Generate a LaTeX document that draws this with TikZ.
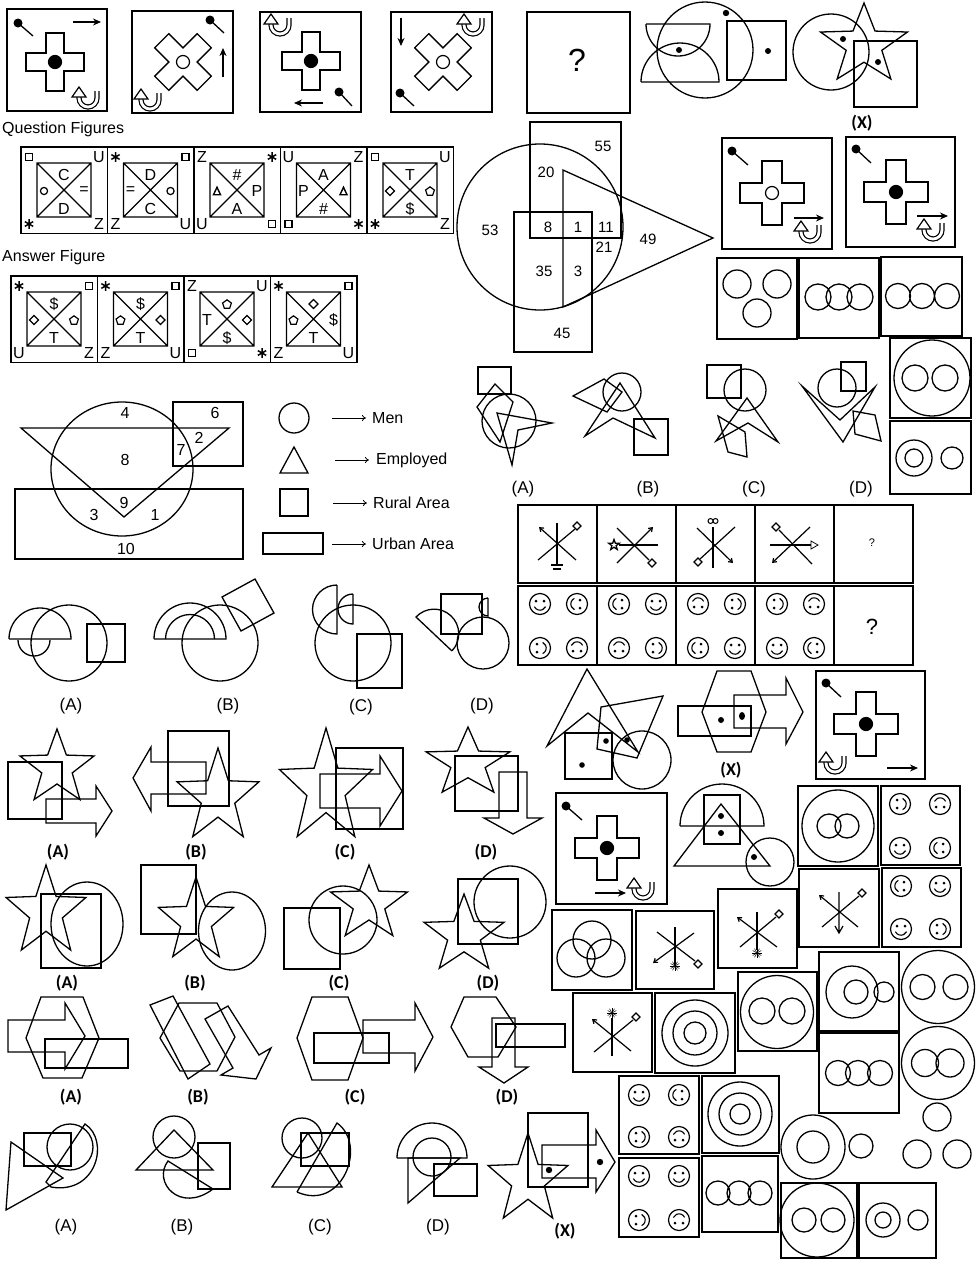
\documentclass[tikz,border=0pt]{standalone}
\usepackage{fontspec}
\setmainfont{Liberation Sans}
\newfontfamily\tagfont{Carlito}
\usetikzlibrary{arrows.meta}

% small symbols used inside the cells
\newcommand{\symsq}{\tikz\draw[line width=1.2pt] (0,0) rectangle (7pt,7pt);}
\newcommand{\symdm}{\tikz\draw[line width=1.2pt] (0,4.5pt) -- (4.5pt,0) -- (0,-4.5pt) -- (-4.5pt,0) -- cycle;}
\newcommand{\sympt}{\tikz\draw[line width=1.2pt] (90:4.6pt) -- (162:4.6pt) -- (234:4.6pt) -- (306:4.6pt) -- (18:4.6pt) -- cycle;}
\newcommand{\symci}{\tikz\draw[line width=1.2pt] (0,0) circle (3.6pt);}
\newcommand{\symtr}{\tikz\draw[line width=1.4pt] (0,0) -- (7pt,0) -- (3.5pt,7.5pt) -- cycle;}
\newcommand{\symast}{\tikz\draw[line width=1.5pt] (90:4.8pt) -- (270:4.8pt) (30:4.8pt) -- (210:4.8pt) (150:4.8pt) -- (330:4.8pt);}

% cell with diagonals: name, corner, corner symbols, inner symbols
\newcommand{\cellbox}[4]{%
  \begin{scope}[shift={(#2)}]
    \draw[cellframe] (0,0) rectangle (86.5,86.5);
    \draw[fig] (16,16) rectangle (70,70) (16,16) -- (70,70) (70,16) -- (16,70);
    \foreach \ctl/\ctr/\cbl/\cbr in {#3} {
      \node (#1-tl) at (8,10) {\ctl};
      \node (#1-tr) at (78,10) {\ctr};
      \node (#1-bl) at (8,77) {\cbl};
      \node (#1-br) at (78,77) {\cbr};}
    \foreach \ct/\cl/\cr/\cb in {#4} {
      \node (#1-t) at (43,28) {\ct};
      \node (#1-l) at (23,44) {\cl};
      \node (#1-r) at (63,44) {\cr};
      \node (#1-b) at (43,62) {\cb};}
  \end{scope}}

% plus shaped block: x, y, rotation, half size, half arm, centre fill
\newcommand{\plusmark}[6]{%
  \begin{scope}[shift={(#1,#2)}, rotate=#3]
    \draw[fig] (-#5,-#4) -- (#5,-#4) -- (#5,-#5) -- (#4,-#5) -- (#4,#5) -- (#5,#5)
      -- (#5,#4) -- (-#5,#4) -- (-#5,#5) -- (-#4,#5) -- (-#4,-#5) -- (-#5,-#5) -- cycle;
    \draw[line width=1.2pt, fill=#6] (0,0) circle (6.5);
  \end{scope}}

\newcommand{\pinmark}[4]{\fill (#1,#2) circle (4.5); \draw[fig] (#1,#2) -- (#3,#4);}

\newcommand{\turnmark}[2]{%
  \begin{scope}[shift={(#1,#2)}]
    \draw[double=white, double distance=2.8pt, line width=1.2pt]
      (9,-7) -- (9,0) arc[start angle=0, end angle=180, radius=9] -- (-9,-2);
    \draw[line width=1.2pt, fill=white] (-16,-1) -- (-9,-11) -- (-2,-1) -- cycle;
  \end{scope}}

\newcommand{\facemark}[3]{%
  \begin{scope}[shift={(#1,#2)}, rotate=#3]
    \draw[line width=1.2pt] (0,0) circle (10.5);
    \fill (-4,-3) circle (1.5) (4,-3) circle (1.5);
    \draw[line width=1.1pt] (-5.62,2.62) arc[start angle=155, end angle=25, radius=6.2];
  \end{scope}}

\newcommand{\starmark}[4]{%
  \begin{scope}[shift={(#1,#2)}, xscale=#3, yscale=#4]
    \draw[fig] (270:1) -- (306:0.41) -- (342:1) -- (18:0.41) -- (54:1) -- (90:0.41)
      -- (126:1) -- (162:0.41) -- (198:1) -- (234:0.41) -- cycle;
  \end{scope}}

\newcommand{\diamondtip}[2]{\draw[spoke, fill=white] (#1,#2) +(0,-4) -- +(4,0) -- +(0,4) -- +(-4,0) -- cycle;}
\newcommand{\sparkmark}[2]{\foreach \sang in {0,30,...,330} {\draw[line width=0.5pt] (#1,#2) -- +(\sang:5);}}

\begin{document}
\begin{tikzpicture}[x=1pt, y=-1pt,
    >={Stealth[length=8pt, width=7pt]},
    every node/.style={inner sep=0pt, font=\fontsize{16}{19}\selectfont},
    fig/.style={line width=1.3pt, line join=miter},
    framebox/.style={line width=1.8pt},
    cellframe/.style={line width=1.5pt},
    ptr/.style={->, line width=1.4pt},
    thinptr/.style={-{To[length=4pt, width=6pt]}, line width=0.8pt},
    spoke/.style={line width=1.2pt},
    barb/.style={spoke, -{Straight Barb[length=3.5pt, width=5pt]}},
    optlabel/.style={font=\fontsize{17}{20}\selectfont},
    tag/.style={font=\tagfont\bfseries\fontsize{18}{21}\selectfont},
    venn/.style={font=\fontsize{15}{17}\selectfont},
]
\fill[white] (0,0) rectangle (977,1261);
\useasboundingbox (0,0) rectangle (977,1261);

% top row of problem figures
\draw[framebox] (7,9) rectangle (107,111);
\pinmark{18}{23}{33}{36}
\draw[ptr] (73,22) -- (101,22);
\plusmark{55}{62}{0}{29}{9}{black}
\turnmark{88}{98}

\draw[framebox] (132,11) rectangle (233,113);
\pinmark{210}{20}{224}{33}
\plusmark{183}{62}{45}{30}{10}{white}
\draw[ptr] (223,77) -- (223,48);
\turnmark{150}{100}

\draw[framebox] (260,12) rectangle (361,112);
\turnmark{280}{25}
\plusmark{311}{61}{0}{29}{9}{black}
\pinmark{339}{92}{352}{106}
\draw[ptr] (323,103) -- (294,103);

\draw[framebox] (391,12) rectangle (492,112);
\draw[ptr] (401,18) -- (401,46);
\turnmark{473}{25}
\plusmark{443}{62}{45}{30}{10}{white}
\pinmark{400}{93}{414}{106}

\draw[framebox] (527,12) rectangle (630,113);
\node[font=\fontsize{32}{36}\selectfont] (qmark) at (577,60) {?};

% semicircles and circle
\draw[fig] (705,50) circle (48);
\draw[fig] (646,24) -- (710,24) arc[start angle=0, end angle=180, radius=32];
\draw[fig] (641,82) -- (719,82) arc[start angle=0, end angle=-180, radius=39];
\fill (679,50) circle (3) (726,13) circle (3.2) (768,51) circle (3);
\draw[fig] (727,21) rectangle (786,80);

% star, circle, square (X)
\draw[fig] (831,52) circle (38);
\starmark{864}{45}{45.7}{42}
\draw[fig] (854,41) rectangle (917,107);
\fill (843,39) circle (3) (878,62) circle (3);
\node[tag] (tagx1) at (862,123) {(X)};

% question and answer cells
\node[anchor=west] (qtitle) at (2,129) {Question Figures};
\cellbox{q1}{21,147}{\symsq/U/\symast/Z}{C/\symci/=/D}
\cellbox{q2}{107.5,147}{\symast/\symsq/Z/U}{D/=/\symci/C}
\cellbox{q3}{194,147}{Z/\symast/U/\symsq}{\#/\symtr/P/A}
\cellbox{q4}{280.5,147}{U/Z/\symsq/\symast}{A/P/\symtr/\#}
\cellbox{q5}{367,147}{\symsq/U/\symast/Z}{T/\symdm/\sympt/\$}
\node[anchor=west] (atitle) at (2,257) {Answer Figure};
\cellbox{a1}{11,276}{\symast/\symsq/U/Z}{\$/\symdm/\sympt/T}
\cellbox{a2}{97.5,276}{\symast/\symsq/Z/U}{\$/\sympt/\symdm/T}
\cellbox{a3}{184,276}{Z/U/\symsq/\symast}{\sympt/T/\symdm/\$}
\cellbox{a4}{270.5,276}{\symast/\symsq/Z/U}{\symdm/\sympt/\$/T}

% numbered venn figure
\draw[fig] (540,227) circle (83);
\draw[fig] (530,122) rectangle (621,238);
\draw[fig] (514,212) rectangle (592,352);
\draw[fig] (563,170) -- (713,238) -- (563,307) -- cycle;
\node[venn] (v55) at (603,146) {55};
\node[venn] (v20) at (546,172) {20};
\node[venn] (v53) at (490,230) {53};
\node[venn] (v8) at (548,227) {8};
\node[venn] (v1) at (578,227) {1};
\node[venn] (v11) at (606,227) {11};
\node[venn] (v49) at (648,239) {49};
\node[venn] (v21) at (604,247) {21};
\node[venn] (v35) at (544,271) {35};
\node[venn] (v3) at (578,271) {3};
\node[venn] (v45) at (562,333) {45};

% right column: plus cells
\draw[framebox] (722,138) rectangle (832,249);
\pinmark{732}{151}{748}{165}
\plusmark{772}{193}{0}{32}{10}{white}
\draw[ptr] (794,218) -- (824,218);
\turnmark{810}{232}
\draw[framebox] (846,137) rectangle (955,247);
\pinmark{856}{149}{871}{163}
\plusmark{896}{192}{0}{32}{10}{black}
\draw[ptr] (917,216) -- (948,216);
\turnmark{933}{230}

% right column: circle cells
\draw[framebox] (717,258) rectangle (797,339);
\draw[fig] (737,284) circle (14) (777,284) circle (14) (757,313) circle (14);
\draw[framebox] (799,258) rectangle (879,338);
\draw[fig] (818,297) circle (13) (839,297) circle (13) (860,297) circle (13);
\draw[framebox] (881,257) rectangle (962,336);
\draw[fig] (898,296) circle (12.5) (922,296) circle (12.5) (947,296) circle (12.5);
\draw[framebox] (890,338) rectangle (971,418);
\draw[fig] (932,378) circle (38) (915,378) circle (13) (945,378) circle (13);
\draw[framebox] (890,421) rectangle (971,494);
\draw[fig] (914,458) circle (18) (914,458) circle (9) (952,458) circle (11);

% polygon options
\draw[fig] (478,367) rectangle (511,394);
\draw[fig] (509,421) circle (27);
\draw[fig] (495,384) -- (513,402) -- (500,442) -- (477,407) -- cycle;
\draw[fig] (497,413) -- (552,423) -- (518,430) -- (512,465) -- cycle;
\draw[fig] (573,396) -- (604,379) -- (622,392) -- (607,412) -- cycle;
\draw[fig] (622,392) circle (19);
\draw[fig] (585,436) -- (620,383) -- (655,438) -- (613,418) -- cycle;
\draw[fig] (634,419) rectangle (668,455);
\draw[fig] (707,365) rectangle (741,398);
\draw[fig] (745,390) circle (21);
\draw[fig] (716,441) -- (747,398) -- (778,442) -- (748,423) -- cycle;
\draw[fig] (718,416) -- (745,432) -- (747,457) -- (728,452) -- cycle;
\draw[fig] (841,362) rectangle (866,391);
\draw[fig] (837,388) circle (19);
\draw[fig] (802,386) -- (843,442) -- (875,387) -- (840,420) -- cycle;
\draw[fig] (853,411) -- (875,415) -- (881,441) -- (855,434) -- cycle;
\node[optlabel] (pA) at (523,489) {(A)};
\node[optlabel] (pB) at (648,489) {(B)};
\node[optlabel] (pC) at (754,489) {(C)};
\node[optlabel] (pD) at (861,489) {(D)};

% arrow-symbol cells and face cells
\foreach \xa in {518,597,676,755,834} {
  \draw[framebox] (\xa,505) rectangle +(79,78);
  \draw[framebox] (\xa,586) rectangle +(79,79);
}
\draw[spoke] (557,523) -- (557,564) (551,565) -- (563,565) (553,569) -- (561,569);
\draw[barb] (576,560) -- (539,527);
\draw[spoke] (538,560) -- (575,529);
\diamondtip{577}{526}
\draw[spoke] (619,545) -- (658,545);
\draw[spoke] (617,528) -- (649,560);
\diamondtip{652}{563}
\draw[barb] (617,563) -- (653,527);
\begin{scope}[line width=0.6pt]\starmark{614}{545}{5.5}{5.5}\end{scope}
\draw[spoke] (713,527) -- (713,568);
\draw[line width=1pt] (710.5,521) circle (2.5) (715.5,521) circle (2.5);
\draw[barb] (697,528) -- (733,563);
\draw[spoke] (735,527) -- (700,559);
\diamondtip{698}{562}
\draw[spoke] (770,545) -- (811,545);
\draw[line width=0.8pt] (811,541) -- (818,545) -- (811,549) -- cycle;
\diamondtip{776}{527}
\draw[spoke] (779,530) -- (812,564);
\draw[barb] (810,527) -- (772,563);
\node[font=\fontsize{11}{13}\selectfont] (qmark2) at (872,543) {?};

\facemark{540}{604}{0} \facemark{577}{604}{-90} \facemark{540}{648}{90} \facemark{577}{648}{180}
\facemark{619}{604}{-90} \facemark{656}{604}{0} \facemark{619}{648}{180} \facemark{656}{648}{90}
\facemark{698}{604}{180} \facemark{735}{604}{90} \facemark{698}{648}{-90} \facemark{735}{648}{0}
\facemark{777}{604}{90} \facemark{814}{604}{180} \facemark{777}{648}{0} \facemark{814}{648}{-90}
\node[font=\fontsize{22}{24}\selectfont] (qmark3) at (872,627) {?};

% venn with legend
\draw[fig] (122,469) ellipse [x radius=71, y radius=67];
\draw[fig] (21,428) -- (229,428) -- (124,517) -- cycle;
\draw[fig] (173,402) rectangle (243,466);
\draw[fig] (15,489) rectangle (243,559);
\node (w4) at (125,413) {4};
\node (w6) at (215,413) {6};
\node (w2) at (199,438) {2};
\node (w7) at (181,450) {7};
\node (w8) at (125,460) {8};
\node (w9) at (124,503) {9};
\node (w3) at (94,515) {3};
\node (w1) at (155,515) {1};
\node (w10) at (126,549) {10};
\draw[fig] (294,418) circle (15);
\draw[fig] (280,473) -- (294,447) -- (308,473) -- cycle;
\draw[fig] (280,489) rectangle (308,516);
\draw[fig] (263,533) rectangle (323,554);
\node[anchor=west] (kmen) at (372,418) {Men};
\node[anchor=west] (kemp) at (376,460) {Employed};
\node[anchor=west] (krur) at (373,503) {Rural Area};
\node[anchor=west] (kurb) at (372,544) {Urban Area};
\draw[thinptr] ([xshift=-40pt]kmen.west) -- ([xshift=-6pt]kmen.west);
\draw[thinptr] ([xshift=-41pt]kemp.west) -- ([xshift=-7pt]kemp.west);
\draw[thinptr] ([xshift=-40pt]krur.west) -- ([xshift=-6pt]krur.west);
\draw[thinptr] ([xshift=-40pt]kurb.west) -- ([xshift=-6pt]kurb.west);

% options row 1: semicircles
\draw[fig] (9,639) -- (71,639) arc[start angle=0, end angle=-180, radius=31];
\draw[fig] (18,640) arc[start angle=180, end angle=0, radius=16];
\draw[fig] (69,643) circle (38);
\draw[fig] (87,624) rectangle (125,662);
\draw[fig] (154,639) -- (226,639) arc[start angle=0, end angle=-180, radius=36];
\draw[fig] (214.5,639) arc[start angle=0, end angle=-180, radius=24.5];
\draw[fig] (220,643) circle (38);
\draw[fig] (222,597) -- (255,579) -- (274,613) -- (241,631) -- cycle;
\draw[fig] (353,643) circle (38);
\draw[fig] (337,585) -- (337,634) arc[start angle=90, end angle=270, radius=24.5];
\draw[fig] (353,594) -- (353,624) arc[start angle=90, end angle=270, radius=15];
\draw[fig] (357,634) rectangle (402,688);
\draw[fig] (441,594) rectangle (482,634);
\draw[fig] (488,598) -- (488,616) arc[start angle=90, end angle=270, radius=9];
\draw[fig] (483,643) circle (26);
\draw[fig] (452,651) -- (416,617) arc[start angle=223, end angle=403, radius=24.7];
\node[optlabel] (r1A) at (71,706) {(A)};
\node[optlabel] (r1B) at (228,706) {(B)};
\node[optlabel] (r1C) at (361,707) {(C)};
\node[optlabel] (r1D) at (482,706) {(D)};

% options row 2: star, square, block arrow
\starmark{57}{768}{39}{39}
\draw[fig] (8,762) rectangle (62,819);
\draw[fig] (46,799) -- (96,799) -- (96,786) -- (112,811) -- (96,836) -- (96,823) -- (46,823) -- cycle;
\draw[fig] (133,778) -- (151,747) -- (151,762) -- (206,762) -- (206,794) -- (151,794) -- (151,811) -- cycle;
\draw[fig] (168,731) rectangle (229,806);
\starmark{218}{797}{43}{49}
\starmark{326}{788}{49}{60}
\draw[fig] (336,748) rectangle (403,829);
\draw[fig] (320,774) -- (380,774) -- (380,756) -- (402,791) -- (380,826) -- (380,808) -- (320,808) -- cycle;
\starmark{468}{763}{44}{36}
\draw[fig] (455,756) rectangle (518,811);
\draw[fig] (499,772) -- (527,772) -- (527,818) -- (542,818) -- (513,834) -- (484,818) -- (499,818) -- cycle;
\node[tag] (r2A) at (58,852) {(A)};
\node[tag] (r2B) at (196,852) {(B)};
\node[tag] (r2C) at (345,852) {(C)};
\node[tag] (r2D) at (486,852) {(D)};

% options row 3: star, square, ellipse
\starmark{46}{912}{42}{47}
\draw[fig] (41,894) rectangle (101,968);
\draw[fig] (87,924) ellipse [x radius=36, y radius=42];
\draw[fig] (141,865) rectangle (196,934);
\starmark{196}{921}{39.5}{44}
\draw[fig] (232,931) ellipse [x radius=33.5, y radius=39];
\draw[fig] (284,908) rectangle (340,969);
\draw[fig] (343,920) circle (34);
\starmark{369}{904}{40.5}{39}
\draw[fig] (458,879) rectangle (518,944);
\draw[fig] (510,902) circle (36);
\starmark{464}{935}{42}{41}
\node[tag] (r3A) at (67,983) {(A)};
\node[tag] (r3B) at (195,983) {(B)};
\node[tag] (r3C) at (339,983) {(C)};
\node[tag] (r3D) at (488,983) {(D)};

% options row 4: hexagon, rectangle, block arrow
\draw[fig] (41,997) -- (83,997) -- (99,1038) -- (82,1078) -- (43,1078) -- (26,1038) -- cycle;
\draw[fig] (8,1020) -- (65,1020) -- (65,1003) -- (85,1036) -- (65,1069) -- (65,1052) -- (8,1052) -- cycle;
\draw[fig] (45,1039) rectangle (128,1068);
\draw[fig] (150,1005) -- (173,996) -- (210,1064) -- (188,1079) -- cycle;
\draw[fig] (179,1003) -- (217,1003) -- (235,1037) -- (217,1071) -- (180,1071) -- (160,1038) -- cycle;
\draw[fig] (205,1019) -- (228,1006) -- (259,1055) -- (271,1048) -- (256,1079) -- (221,1075) -- (233,1068) -- cycle;
\draw[fig] (312,997) -- (348,997) -- (363,1038) -- (348,1080) -- (312,1080) -- (297,1038) -- cycle;
\draw[fig] (363,1020) -- (415,1020) -- (415,1003) -- (433,1037) -- (415,1071) -- (415,1053) -- (363,1053) -- cycle;
\draw[fig] (314,1033) rectangle (389,1063);
\draw[fig] (464,997) -- (496,997) -- (516,1027) -- (498,1057) -- (468,1057) -- (451,1027) -- cycle;
\draw[fig] (492,1018) -- (515,1018) -- (515,1067) -- (528,1067) -- (504,1083) -- (479,1067) -- (492,1067) -- cycle;
\draw[fig] (496,1024) rectangle (565,1047);
\node[tag] (r4A) at (71,1097) {(A)};
\node[tag] (r4B) at (198,1097) {(B)};
\node[tag] (r4C) at (355,1097) {(C)};
\node[tag] (r4D) at (507,1097) {(D)};

% options row 5: triangle, circle, rectangle, crescent
\draw[fig] (24,1133) rectangle (71,1166);
\draw[fig] (70,1147) circle (23);
\draw[fig] (11,1142) -- (63,1178) -- (6,1210) -- cycle;
\draw[fig] (46,1182) -- (85,1124) .. controls (110,1140) and (97,1195) .. (51,1187) -- cycle;
\draw[fig] (174,1137) circle (21);
\draw[fig] (136,1170) -- (174,1130) -- (213,1170) -- cycle;
\draw[fig] (198,1143) rectangle (230,1189);
\draw[fig] (213,1189) -- (168,1161) .. controls (152,1182) and (180,1214) .. (213,1189);
\draw[fig] (302,1138) circle (20);
\draw[fig] (301,1133) rectangle (349,1166);
\draw[fig] (272,1187) -- (308,1133) -- (342,1187) -- cycle;
\draw[fig] (297,1192) -- (337,1123) .. controls (368,1145) and (342,1212) .. (297,1192);
\draw[fig] (397,1158) -- (467,1158) arc[start angle=0, end angle=-180, radius=35];
\draw[fig] (432,1157) circle (19);
\draw[fig] (408,1158) -- (460,1158) -- (408,1203) -- cycle;
\draw[fig] (434,1164) rectangle (477,1196);
\draw[fig] (528,1113) rectangle (588,1187);
\draw[fig] (542,1145) -- (596,1145) -- (596,1130) -- (615,1162) -- (596,1192) -- (596,1178) -- (542,1178) -- cycle;
\starmark{528}{1180}{42}{47}
\fill (549,1170) circle (3.2) (600,1162) circle (3.2);
\node[optlabel] (r5A) at (66,1227) {(A)};
\node[optlabel] (r5B) at (182,1227) {(B)};
\node[optlabel] (r5C) at (320,1227) {(C)};
\node[optlabel] (r5D) at (438,1227) {(D)};
\node[tag] (tagx3) at (565,1231) {(X)};

% middle right figures
\draw[fig] (547,746) -- (587,669) -- (638,752) -- (588,713) -- cycle;
\draw[fig] (565,733) rectangle (612,779);
\draw[fig] (601,707) -- (663,696) -- (637,758) -- (597,749) -- cycle;
\draw[fig] (642,760) circle (29);
\fill (582,765) circle (2.8) (606,741) circle (2.8) (627,740) circle (2.8);
\draw[fig] (717,671) -- (751,671) -- (766,712) -- (751,752) -- (717,752) -- (702,712) -- cycle;
\draw[fig] (678,706) rectangle (751,736);
\draw[fig] (734,695) -- (786,695) -- (786,678) -- (803,712) -- (786,744) -- (786,728) -- (734,728) -- cycle;
\fill (721,720) circle (3) (742,716) ellipse [x radius=3, y radius=4];
\node[tag] (tagx2) at (731,770) {(X)};

\draw[framebox] (816,671) rectangle (925,779);
\pinmark{826}{683}{841}{697}
\plusmark{866}{724}{0}{32}{10}{black}
\turnmark{835}{763}
\draw[ptr] (887,768) -- (918,768);
\draw[framebox] (556,793) rectangle (667,904);
\pinmark{566}{806}{582}{820}
\plusmark{607}{848}{0}{32}{10}{black}
\draw[ptr] (595,893) -- (626,893);
\turnmark{643}{889}

\draw[fig] (680,826) -- (764,826) arc[start angle=0, end angle=-180, radius=42];
\draw[fig] (704,795) rectangle (740,844);
\draw[fig] (674,866) -- (721,804) -- (770,866) -- cycle;
\draw[fig] (770,862) circle (24);
\fill (721,816) circle (3) (721,833) circle (3) (754,857) circle (3);

\draw[framebox] (798,786) rectangle (878,866);
\draw[fig] (838,826) circle (36) (829,826) circle (12) (847,826) circle (12);
\draw[framebox] (881,786) rectangle (960,865);
\facemark{900}{804}{90} \facemark{940}{804}{180} \facemark{900}{848}{0} \facemark{940}{848}{-90}

\draw[framebox] (552,910) rectangle (632,990);
\draw[fig] (592,940) circle (19) (576,958) circle (19) (606,958) circle (19);
\draw[framebox] (636,911) rectangle (714,989);
\draw[spoke] (675,927) -- (675,965);
\draw[spoke] (657,932) -- (695,961);
\diamondtip{698}{964}
\draw[barb] (694,933) -- (653,963);
\sparkmark{675}{966}
\draw[framebox] (718,889) rectangle (797,968);
\draw[spoke] (757,912) -- (757,950);
\draw[barb] (777,947) -- (737,917);
\draw[spoke] (740,947) -- (776,917);
\diamondtip{779}{914}
\sparkmark{757}{953}
\draw[framebox] (799,869) rectangle (879,947);
\draw[spoke] (839,892) -- (839,933) (835,926) -- (839,933) -- (843,926);
\draw[barb] (858,927) -- (819,895);
\draw[spoke] (822,927) -- (859,896);
\diamondtip{862}{893}
\draw[framebox] (882,868) rectangle (961,947);
\facemark{901}{886}{-90} \facemark{940}{886}{0} \facemark{901}{929}{0} \facemark{940}{929}{90}

% lower right figures
\draw[framebox] (819,952) rectangle (899,1031);
\draw[fig] (852,992) circle (26) (856,992) circle (12) (884,992) circle (10);
\draw[fig] (938,987) circle (36.5) (922.5,987) circle (12.5) (955.5,987) circle (12.5);
\draw[framebox] (738,972) rectangle (817,1051);
\draw[fig] (777,1012) circle (36.5) (762,1011) circle (13) (792,1011) circle (13);
\draw[framebox] (573,993) rectangle (652,1072);
\draw[spoke] (612,1018) -- (612,1056);
\draw[barb] (631,1051) -- (592,1019);
\draw[spoke] (594,1052) -- (633,1020);
\diamondtip{636}{1017}
\sparkmark{612}{1013}
\draw[framebox] (655,993) rectangle (735,1073);
\draw[fig] (695,1033) circle (33) (695,1033) circle (22) (695,1033) circle (11);
\draw[framebox] (819,1033) rectangle (899,1113);
\draw[fig] (838,1073) circle (12.5) (858,1073) circle (12.5) (880,1073) circle (12.5);
\draw[fig] (938,1063) circle (36.5) (925,1063) circle (13.5) (950,1063) circle (14);
\draw[framebox] (619,1076) rectangle (699,1154);
\facemark{639}{1095}{0} \facemark{679}{1095}{-90} \facemark{639}{1137}{90} \facemark{679}{1137}{180}
\draw[framebox] (702,1076) rectangle (779,1153);
\draw[fig] (740,1114) circle (32) (740,1114) circle (21) (740,1114) circle (10);
\draw[fig] (813,1147) circle (32) (813,1147) circle (16) (861,1146) circle (12);
\draw[fig] (937,1117) circle (14) (917,1154) circle (14) (957,1154) circle (14);
\draw[framebox] (619,1158) rectangle (699,1237);
\facemark{639}{1176}{0} \facemark{679}{1176}{0} \facemark{639}{1220}{90} \facemark{679}{1220}{180}
\draw[framebox] (702,1156) rectangle (778,1232);
\draw[fig] (718,1193) circle (12) (739,1193) circle (12) (760,1193) circle (12);
\draw[framebox] (781,1183) rectangle (857,1258);
\draw[fig] (817,1220) circle (37) (804,1220) circle (12) (833,1220) circle (12);
\draw[framebox] (859,1183) rectangle (936,1258);
\draw[fig] (883,1220) circle (17) (883,1220) circle (8) (918,1220) circle (10);
\end{tikzpicture}
\end{document}
